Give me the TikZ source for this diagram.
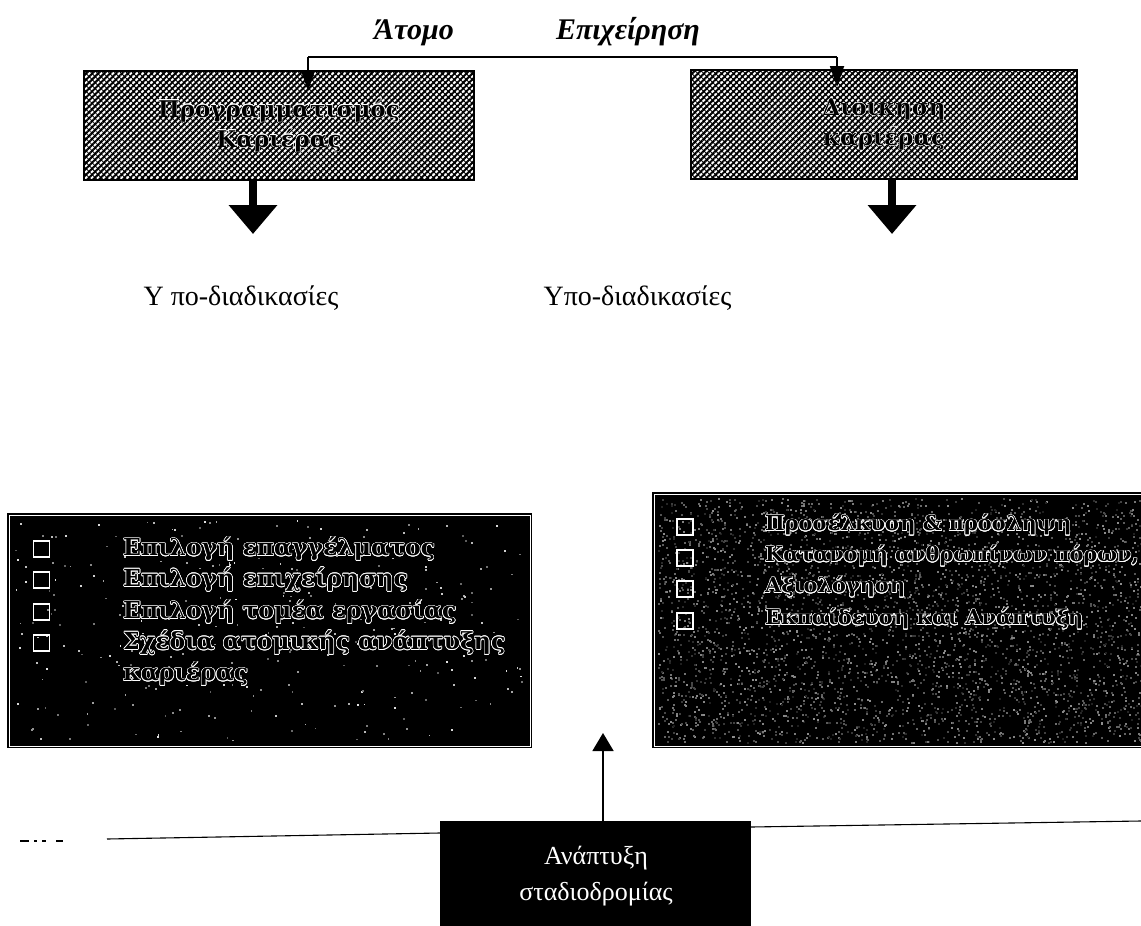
\documentclass[tikz,border=0pt]{standalone}
\usepackage{fontspec}
\setmainfont{Liberation Serif}
\newfontfamily\heavyserif{DejaVu Serif}
\usepackage[copies]{contour}
\contourlength{0.6pt}
\usetikzlibrary{arrows.meta,patterns.meta,calc}

\newcommand\halo[1]{\contour{white}{#1}}

\tikzset{
  bracket/.style={line width=1.8pt, draw=black},
  inarrow/.style={bracket, -{Triangle[width=14pt,length=21pt]}},
  bigarrow/.style={line width=8pt, -{Triangle[width=47pt,length=29pt]}},
  uparrow/.style={line width=1.6pt, -{Triangle[width=21pt,length=18pt]}},
  hatchbox/.style={draw=black, line width=2pt, inner sep=0pt,
    preaction={pattern={Lines[angle=-45,distance=4.2pt,line width=0.9pt]}, pattern color=black},
    pattern={Lines[angle=45,distance=4.2pt,line width=2pt]}, pattern color=black,
    font=\contourlength{0.3pt}\heavyserif\bfseries\fontsize{23}{30}\selectfont,
    align=center, text=black},
  darkbox/.style={fill=black, draw=black, double=white, double distance=0.9pt,
    line width=1.2pt, inner sep=0pt},
  toplabel/.style={font=\bfseries\itshape\fontsize{30}{32}\selectfont, anchor=base},
  sublabel/.style={font=\fontsize{28}{30}\selectfont, anchor=base west},
  item/.style={font=\heavyserif\bfseries\fontsize{23.5}{30}\selectfont, anchor=west, inner sep=0pt, text=black},
  itemR/.style={item, font=\heavyserif\bfseries\fontsize{20.8}{30}\selectfont},
  chk/.style={draw=white, line width=1.8pt, minimum size=16pt, inner sep=0pt},
  devbox/.style={fill=black, inner sep=0pt, minimum width=311pt, minimum height=110pt},
  devtext/.style={text=white, font=\fontsize{26}{36}\selectfont, align=center},
  rule/.style={line width=1.1pt, draw=black}
}

\begin{document}
\begin{tikzpicture}[x=1pt,y=-1pt]
\useasboundingbox[fill=white] (0,0) rectangle (1141,926);

% --- heading labels and the bracket that feeds both boxes
\node[toplabel] (atomo) at (414,39) {Άτομο};
\node[toplabel] (firm) at (628,39) {Επιχείρηση};

\node[hatchbox, minimum width=390pt, minimum height=109pt] (plan) at (279,125.5)
  {\halo{Προγραμματισμός}\\\halo{Καριέρας}};
\node[hatchbox, minimum width=386pt, minimum height=109pt] (mgmt) at (884,124.5)
  {\halo{Διοικηση}\\\halo{καριέρας}};

\coordinate (bl) at (308,57);
\coordinate (br) at (837,57);
\draw[bracket] (bl) -- (br);
\draw[inarrow] (bl) -- ($(plan.north -| bl)+(0,21)$);
\draw[inarrow] (br) -- ($(mgmt.north -| br)+(0,18)$);

% --- heavy arrows down to the sub-process labels
\coordinate (dl) at (253,234);
\coordinate (dr) at (892,234);
\draw[bigarrow] (plan.south -| dl) -- (dl);
\draw[bigarrow] (mgmt.south -| dr) -- (dr);

\node[sublabel] (subl) at (140,305) {Υ πο-διαδικασίες};
\node[sublabel] (subr) at (540,305) {Υπο-διαδικασίες};

% --- lower left list box
\node[darkbox, minimum width=521pt, minimum height=231pt] (listL) at (269.5,630.5) {};
\pgfmathsetseed{11}
\foreach \i in {1,...,300}{
  \pgfmathsetmacro\g{int(35+55*rnd)}
  \fill[white!\g!black] ({14+510*rnd},{520+220*rnd}) rectangle +(1.8,1.8);
}
\foreach \n/\y in {1/549,2/580,3/612,4/643}
  \node[chk] (cl\n) at (41.5,\y) {};
\node[item] (l1) at (123,549) {\halo{Επιλογή επαγγέλματος}};
\node[item] (l2) at (123,580) {\halo{Επιλογή επιχείρησης}};
\node[item] (l3) at (123,612) {\halo{Επιλογή τομέα εργασίας}};
\node[item] (l4) at (123,643) {\halo{Σχέδια ατομικής ανάπτυξης}};
\node[item] (l5) at (123,674) {\halo{καριέρας}};

% --- lower right list box, grainy fill
\node[darkbox, minimum width=496pt, minimum height=252pt] (listR) at (902,620) {};
\pgfmathsetseed{5}
\foreach \i in {1,...,3600}{
  \pgfmathsetmacro\g{int(12+45*rnd)}
  \fill[white!\g!black] ({658+486*rnd},{498+244*rnd}) rectangle +(2,2);
}
\foreach \n/\y in {1/527,2/558,3/589,4/621}
  \node[chk] (cr\n) at (685,\y) {};
\node[itemR] (r1) at (765,525) {\halo{Προσέλκυση \& πρόσληψη}};
\node[itemR] (r2) at (765,556) {\halo{Κατανομή ανθρωπίνων πόρων,}};
\node[itemR] (r3) at (765,587) {\halo{Αξιολόγηση}};
\node[itemR] (r4) at (765,619) {\halo{Εκπαίδευση και Ανάπτυξη}};

% --- career development box and its rule line
\node[devbox] (dev) at (595.5,876) {};
\node[devtext] (devt) at (596,876) {Ανάπτυξη\\σταδιοδρομίας};
\coordinate (up) at (603,733);
\draw[uparrow] (dev.north -| up) -- (up);

\coordinate (ll) at (107,839);
\coordinate (lr) at (440,833);
\coordinate (rl) at (751,827);
\coordinate (rr) at (1141,821);
\draw[rule] (ll) -- (lr);
\draw[rule] (rl) -- (rr);
\draw[rule, dash pattern=on 9pt off 5pt on 3pt off 5pt on 4pt off 10pt on 7pt off 20pt]
  (20,841) -- (80,841);
\end{tikzpicture}
\end{document}
